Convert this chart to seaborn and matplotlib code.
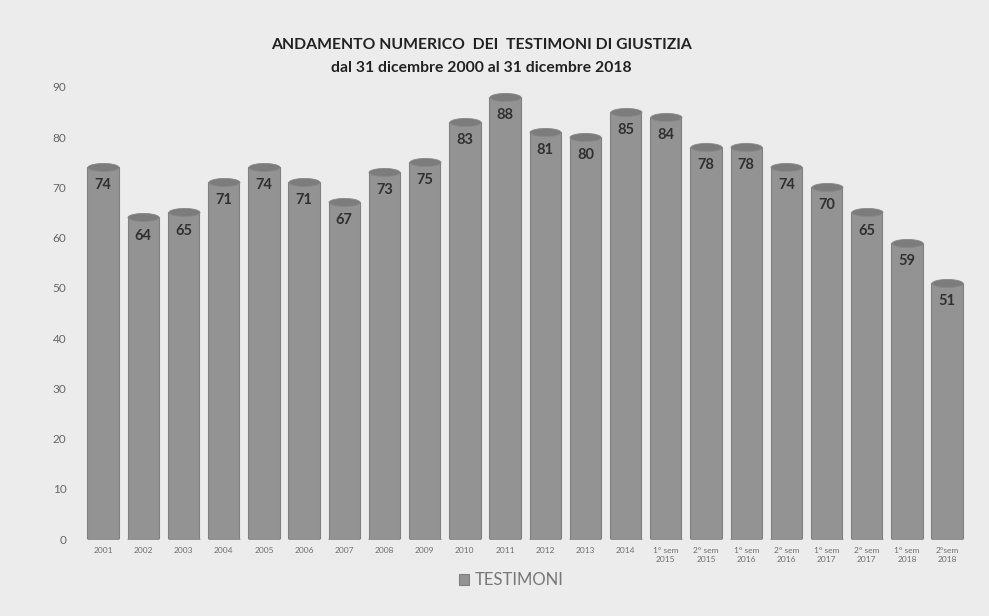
import matplotlib

matplotlib.use("Agg")

import matplotlib.pyplot as plt
import numpy as np
import pandas as pd
import seaborn as sns
from matplotlib.path import Path

categories = [
    "2001", "2002", "2003", "2004", "2005", "2006", "2007", "2008", "2009",
    "2010", "2011", "2012", "2013", "2014",
    "1° sem\n2015", "2° sem\n2015", "1° sem\n2016", "2° sem\n2016",
    "1° sem\n2017", "2° sem\n2017", "1° sem\n2018", "2°sem\n2018",
]
testimoni = [74, 64, 65, 71, 74, 71, 67, 73, 75, 83, 88, 81, 80, 85,
             84, 78, 78, 74, 70, 65, 59, 51]
y_ticks = [0, 10, 20, 30, 40, 50, 60, 70, 80, 90]

df = pd.DataFrame({"periodo": categories, "testimoni": testimoni})

sns.set_theme(style="white")
plt.rcParams["font.family"] = ["Lato", "DejaVu Sans"]

bg = "#ececec"
bar_color = "#939393"

fig = plt.figure(figsize=(9.89, 6.16), dpi=100, facecolor=bg)
ax = fig.add_axes([0.084, 0.125, 0.894, 0.734], facecolor=bg)

sns.barplot(data=df, x="periodo", y="testimoni", color=bar_color, width=0.78,
            saturation=1, edgecolor="#808080", linewidth=0.8, ax=ax,
            label="TESTIMONI", zorder=2)

# cylinder caps: ellipse marker on top and at the base of each bar
theta = np.linspace(0, 2 * np.pi, 60)
ellipse = Path(np.column_stack([np.cos(theta), 0.26 * np.sin(theta)]), closed=True)
xs = np.arange(len(categories))
ax.scatter(xs, np.zeros(len(xs)), marker=ellipse, s=22.3 ** 2, color=bar_color,
           edgecolors="#808080", linewidths=0.6, zorder=1)
ax.scatter(xs, testimoni, marker=ellipse, s=22.3 ** 2, color="#7c7c7c",
           edgecolors="#888888", linewidths=0.6, zorder=3)

for x, v in zip(xs, testimoni):
    ax.annotate(str(v), (x, v), xytext=(0, -13), textcoords="offset points",
                ha="center", va="center", fontsize=10.5, fontweight="bold",
                color="#303030", zorder=4)

ax.set_ylim(0, 90)
ax.set_xlim(-0.5, len(categories) - 0.5)
ax.set_yticks(y_ticks)
ax.tick_params(axis="y", labelsize=8.5, labelcolor="#666666", length=0, pad=12)
ax.tick_params(axis="x", labelsize=6, labelcolor="#6e6e6e", length=0, pad=6)
ax.set_xlabel("")
ax.set_ylabel("")
for s in ax.spines.values():
    s.set_visible(False)

fig.text(0.487, 0.927, "ANDAMENTO NUMERICO  DEI  TESTIMONI DI GIUSTIZIA",
         ha="center", va="center", fontsize=11.3, fontweight="bold", color="#222222")
fig.text(0.487, 0.89, "dal 31 dicembre 2000 al 31 dicembre 2018",
         ha="center", va="center", fontsize=11.3, fontweight="bold", color="#222222")

leg = ax.legend(loc="center", bbox_to_anchor=(0.517, 0.058), bbox_transform=fig.transFigure,
                frameon=False, fontsize=12, handlelength=0.6, handleheight=0.6,
                handletextpad=0.4)
for t in leg.get_texts():
    t.set_color("#777777")

fig.savefig("out.png", dpi=100, facecolor=bg)
